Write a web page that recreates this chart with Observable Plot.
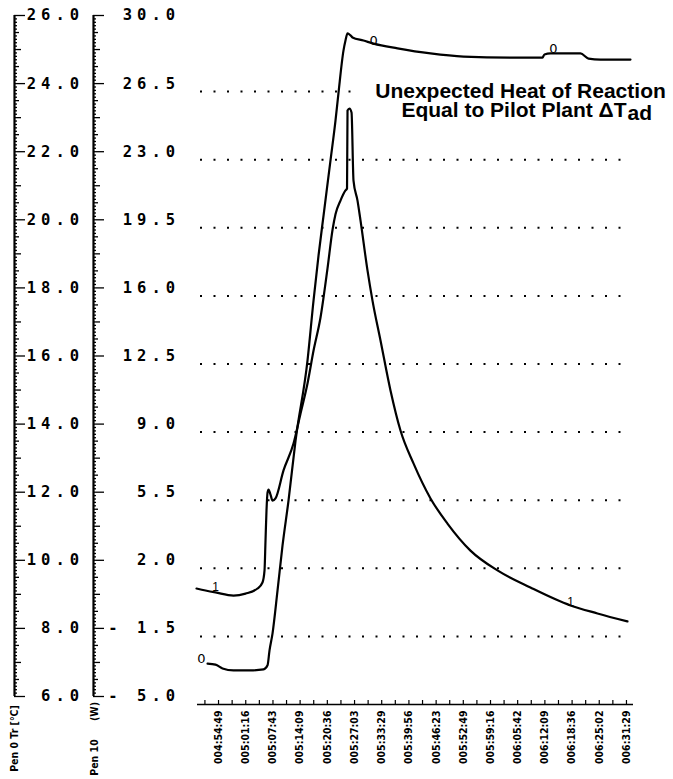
<!DOCTYPE html>
<html>
<head>
<meta charset="utf-8">
<script src="https://cdn.jsdelivr.net/npm/d3@7"></script>
<script src="https://cdn.jsdelivr.net/npm/@observablehq/plot@0.6"></script>
<style>
  body { margin: 0; background: #fff; }
  g[aria-label="title"] text { word-spacing: 4.5px; }
</style>
</head>
<body>
<div id="chart"></div>
<script>
// ---- tick labels ----
const xLabels = ["004:54:49","005:01:16","005:07:43","005:14:09","005:20:36","005:27:03","005:33:29","005:39:56",
                 "005:46:23","005:52:49","005:59:16","006:05:42","006:12:09","006:18:36","006:25:02","006:31:29"];
const trAxisLabels = ["6.0","8.0","10.0","12.0","14.0","16.0","18.0","20.0","22.0","24.0","26.0"];
const wAxisLabels  = ["- 5.0","- 1.5","2.0","5.5","9.0","12.5","16.0","19.5","23.0","26.5","30.0"];
const trAxisTitle = "Pen 0 Tr [°C]";
const wAxisTitleUnit = "(W)";
const wAxisTitlePen = "Pen 10";
const titleLine1 = "Unexpected Heat of Reaction";
const titleLine2 = "Equal to Pilot Plant ΔT";
const titleSub = "ad";

// ---- Pen 0: reactor temperature Tr [°C] ----
const trTimes = ["4:52:13","4:54:06","4:55:46","4:58:22","5:02:24","5:05:29","5:06:26","5:06:54","5:07:37","5:08:48",
                 "5:09:59","5:11:24","5:13:04","5:15:54","5:17:20","5:18:31","5:19:42","5:21:21","5:22:32","5:23:15",
                 "5:24:26","5:24:54","5:25:23","5:26:06","5:26:34","5:29:10","5:31:33","5:37:14","5:45:03","5:52:52",
                 "6:04:43","6:11:35","6:12:03","6:13:29","6:17:30","6:20:35","6:22:29","6:25:20","6:32:26"];
const trValues = [7.20,7.17,7.06,7.00,7.00,7.03,7.15,7.59,8.09,9.35,
                  10.67,11.99,13.75,16.10,17.87,19.19,20.36,21.98,23.15,23.97,
                  25.21,25.50,25.71,25.65,25.59,25.50,25.41,25.27,25.12,25.03,
                  25.00,25.00,25.09,25.12,25.12,25.12,24.97,24.94,24.94];

// ---- Pen 10: heat flow (W) ----
const wTimes = ["4:49:36","4:51:44","4:54:06","4:58:22","5:01:13","5:04:03","5:05:14","5:05:43","5:05:57","5:06:11",
                "5:06:26","5:06:40","5:07:08","5:07:37","5:08:19","5:10:13","5:12:35","5:14:15","5:15:54","5:17:20",
                "5:18:59","5:20:38","5:21:50","5:22:32","5:23:43","5:24:54","5:25:16","5:25:23","5:25:51","5:26:20",
                "5:26:48","5:27:45","5:28:28","5:30:07","5:31:18","5:33:12","5:35:34","5:37:56","5:41:01","5:45:03",
                "5:49:04","5:54:31","6:00:55","6:08:44","6:18:13","6:24:37","6:31:43"];
const wValues = [0.96,0.86,0.76,0.60,0.70,0.96,1.27,1.89,3.43,4.97,
                 5.90,6.05,5.79,5.48,5.59,7.03,8.41,9.96,11.50,13.19,
                 14.89,17.40,19.40,20.20,20.90,21.42,21.52,25.53,25.63,25.43,
                 21.93,20.90,19.87,17.31,15.76,13.71,11.14,9.08,7.39,5.59,
                 4.30,2.91,1.89,1.01,0.09,-0.32,-0.73];

// ---- pen markers ----
const trMarkerTimes = ["4:50:47","5:31:33","6:14:11"];
const trMarkerValues = [7.35, 25.50, 25.25];
const wMarkerTimes = ["4:54:06","6:18:13"];
const wMarkerValues = [1.01, 0.24];

// ---- helpers ----
const sec = s => { const [h, m, x] = s.split(":").map(Number); return h * 3600 + m * 60 + x; };
const trToW = v => -5 + (v - 6) * 35 / 20;
const num = s => parseFloat(s.replace(/\s/g, ""));

const trData = trTimes.map((s, i) => ({t: sec(s), w: trToW(trValues[i])}));
const wData = wTimes.map((s, i) => ({t: sec(s), w: wValues[i]}));
const trMarkers = trMarkerTimes.map((s, i) => ({t: sec(s), w: trToW(trMarkerValues[i])}));
const wMarkers = wMarkerTimes.map((s, i) => ({t: sec(s), w: wMarkerValues[i]}));

const xTicks = xLabels.map(sec);
const labelMap = new Map(xTicks.map((t, i) => [t, xLabels[i]]));
const halfTicks = [xTicks[0] - (xTicks[1] - xTicks[0]) / 2];
xTicks.forEach((t, i) => { halfTicks.push(t); if (i < xTicks.length - 1) halfTicks.push((t + xTicks[i + 1]) / 2); });

const majorW = wAxisLabels.map(num);
const majorTr = trAxisLabels.map(s => trToW(num(s)));
const gridW = majorW.slice(1, -2);       // full-width dotted rows
const gridTop = majorW.slice(-2, -1);    // top row stops before the title
const xDomain = [sec("4:49:50"), sec("6:33:09")];

const W = 673, H = 779, mL = 197, mR = 40, mT = 23, mB = 75;
const frameW = W - mL - mR;
const trAxisX = 14, wAxisX = 93, axisShift = -8;

const minorTicks = d3.range(0, 201).map(i => ({i, y: -5 + i * 35 / 200}));
const tickLen = i => i % 20 === 0 ? 11 : i % 10 === 0 ? 7 : i % 5 === 0 ? 5 : 3;
const tickMarks = [];
for (const ax of [trAxisX, wAxisX]) {
  for (const L of [11, 7, 5, 3]) {
    tickMarks.push(Plot.ruleY(minorTicks.filter(d => tickLen(d.i) === L), {
      y: "y", insetRight: frameW - L, dx: ax - mL, dy: axisShift, stroke: "#000", strokeWidth: 1.3
    }));
  }
}

// monospaced, widely spaced axis numbers: one text mark per character column
const numFont = {fontFamily: "DejaVu Sans Mono", fontWeight: "bold", fontSize: 15.5};
const pitch = 14.4;
function charMarks(labels, positions, lastCenter) {
  const cells = [];
  labels.forEach((lab, i) => {
    const chars = [...lab];
    chars.forEach((ch, k) => { if (ch !== " ") cells.push({y: positions[i], ch, c: chars.length - 1 - k}); });
  });
  return d3.range(0, 6).map(c => Plot.text(cells.filter(d => d.c === c), {
    y: "y", text: "ch", frameAnchor: "left", textAnchor: "middle",
    dx: lastCenter - c * pitch - mL, dy: axisShift, ...numFont
  }));
}

const condFont = {fontFamily: "DejaVu Sans Condensed, DejaVu Sans", fontWeight: "bold"};
const titleFont = {fontFamily: "Liberation Sans", fontWeight: "bold", fontSize: 21, ariaLabel: "title", lineAnchor: "bottom"};
const dotted = {stroke: "#000", strokeWidth: 2, strokeDasharray: "2 11.5", insetLeft: 3};

const chart = Plot.plot({
  width: W, height: H,
  marginLeft: mL, marginRight: mR, marginTop: mT, marginBottom: mB,
  x: {type: "linear", domain: xDomain, axis: null},
  y: {domain: [-5, 30], axis: null},
  style: {background: "#fff", color: "#000", overflow: "visible"},
  marks: [
    // dotted grid
    Plot.ruleY(gridW, {...dotted, insetRight: 6}),
    Plot.ruleY(gridTop, {...dotted, insetRight: 279}),
    // x axis line and ticks
    Plot.ruleY([-5], {stroke: "#000", strokeWidth: 1.6}),
    Plot.ruleX(halfTicks, {x: d => d, insetTop: H - mT - mB - 4, stroke: "#000", strokeWidth: 1.2}),
    Plot.axisX(xTicks, {anchor: "bottom", tickSize: 0, tickPadding: 6, tickRotate: -90,
      tickFormat: d => labelMap.get(d), label: null, ...condFont, fontSize: 10.5}),
    // left axes
    Plot.ruleX([xDomain[0]], {x: d => d, y1: -5, y2: 30, dx: trAxisX - mL, dy: axisShift, stroke: "#000", strokeWidth: 2.2}),
    Plot.ruleX([xDomain[0]], {x: d => d, y1: -5, y2: 30, dx: wAxisX - mL, dy: axisShift, stroke: "#000", strokeWidth: 2.2}),
    ...tickMarks,
    ...charMarks(trAxisLabels, majorTr, 74),
    ...charMarks(wAxisLabels, majorW, 170),
    Plot.text([trAxisTitle], {frameAnchor: "bottom-left", rotate: -90, textAnchor: "middle",
      dx: 17 - mL, dy: 34, ...condFont, fontSize: 10.5}),
    Plot.text([wAxisTitleUnit], {frameAnchor: "bottom-left", rotate: -90, textAnchor: "middle",
      dx: 97 - mL, dy: 7, ...condFont, fontSize: 10.5}),
    Plot.text([wAxisTitlePen], {frameAnchor: "bottom-left", rotate: -90, textAnchor: "middle",
      dx: 97 - mL, dy: 53, ...condFont, fontSize: 10.5}),
    // curves
    Plot.line(trData, {x: "t", y: "w", stroke: "#000", strokeWidth: 2.2, strokeLinejoin: "round", curve: "monotone-x"}),
    Plot.line(wData, {x: "t", y: "w", stroke: "#000", strokeWidth: 2.2, strokeLinejoin: "round", curve: "monotone-x"}),
    // pen markers
    Plot.text(trMarkers, {x: "t", y: "w", text: () => "0", fontFamily: "DejaVu Sans", fontSize: 13}),
    Plot.text(wMarkers, {x: "t", y: "w", text: () => "1", fontFamily: "Liberation Sans", fontSize: 12}),
    // title
    Plot.text([titleLine1], {frameAnchor: "top-left", textAnchor: "middle", dx: 520 - mL, dy: 97 - mT, ...titleFont}),
    Plot.text([titleLine2], {frameAnchor: "top-left", textAnchor: "end", dx: 626 - mL, dy: 116 - mT, ...titleFont}),
    Plot.text([titleSub], {frameAnchor: "top-left", textAnchor: "start", dx: 627 - mL, dy: 119 - mT, ...titleFont})
  ]
});
document.getElementById("chart").append(chart);
</script>
</body>
</html>
